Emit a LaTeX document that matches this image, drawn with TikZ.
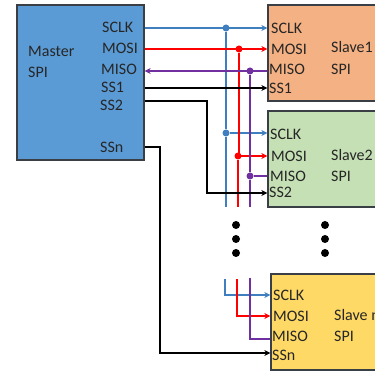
\documentclass[tikz,border=0pt]{standalone}
\usepackage{fontspec}
\setmainfont{Carlito}
\usepackage{xcolor}
\definecolor{ink}{HTML}{3A3F45}
\definecolor{masterblue}{HTML}{5B9BD5}
\definecolor{slaveorange}{HTML}{F4B183}
\definecolor{slavegreen}{HTML}{C5E0B4}
\definecolor{slaveyellow}{HTML}{FFD966}
\definecolor{clkblue}{HTML}{3F7FBF}
\definecolor{misopurple}{HTML}{7030A0}
\usetikzlibrary{arrows.meta}
\tikzset{
  chip/.style={draw=ink, line width=1.3pt, minimum width=#1, minimum height=96pt, inner sep=0pt},
  lab/.style={anchor=west, inner sep=0pt, font=\fontsize{16}{16}\selectfont, text=black!85},
  clk/.style={clkblue, line width=1.8pt},
  mosi/.style={red, line width=1.8pt},
  miso/.style={misopurple, line width=1.8pt},
  sel/.style={black, line width=1.8pt},
  tip/.style={-{Stealth[length=6pt,width=6pt]}},
  junc/.style={circle, fill, inner sep=0pt, minimum size=7pt},
  bigdot/.style={circle, fill=black, inner sep=0pt, minimum size=8pt},
}
\begin{document}
\begin{tikzpicture}[x=1pt,y=-1pt]
  \useasboundingbox (0,0) rectangle (375,371);
  \clip (0,0) rectangle (375,371);
  \fill[white] (0,0) rectangle (375,371);
  % chips
  \node[chip=127pt, minimum height=155pt, fill=masterblue] (master) at (80.5,82.5) {};
  \node[chip=130pt, fill=slaveorange] (slaveA) at (333,53) {};
  \node[chip=130pt, fill=slavegreen] (slaveB) at (333,159) {};
  \node[chip=130pt, fill=slaveyellow] (slaveN) at (336,322) {};
  % master labels
  \node[lab] (mname) at (28,51) {Master};
  \node[lab] (mspi) at (28,72) {SPI};
  \node[lab] (msclk) at (102,27) {SCLK};
  \node[lab] (mmosi) at (102,48) {MOSI};
  \node[lab] (mmiso) at (101,69) {MISO};
  \node[lab] (mssa) at (101,87) {SS1};
  \node[lab] (mssb) at (100,105) {SS2};
  \node[lab] (mssn) at (100,147) {SSn};
  % slave 1 labels
  \node[lab] (asclk) at (271,28) {SCLK};
  \node[lab] (amosi) at (271,49) {MOSI};
  \node[lab] (amiso) at (269,69) {MISO};
  \node[lab] (assa) at (269,88) {SS1};
  \node[lab] (aname) at (331,47) {Slave1};
  \node[lab] (aspi) at (331,69) {SPI};
  % slave 2 labels
  \node[lab] (bsclk) at (270,134) {SCLK};
  \node[lab] (bmosi) at (271,156) {MOSI};
  \node[lab] (bmiso) at (270,176) {MISO};
  \node[lab] (bssb) at (269,192) {SS2};
  \node[lab] (bname) at (331,155) {Slave2};
  \node[lab] (bspi) at (331,176) {SPI};
  % slave n labels
  \node[lab] (nsclk) at (273,295) {SCLK};
  \node[lab] (nmosi) at (273,316) {MOSI};
  \node[lab] (nmiso) at (272,336) {MISO};
  \node[lab] (nssn) at (272,355) {SSn};
  \node[lab] (nname) at (334,315) {Slave n};
  \node[lab] (nspi) at (334,336) {SPI};
  % bus ends and junctions
  \node[junc, clkblue] (jca) at (226,28) {};
  \node[junc, clkblue] (jcb) at (226,133) {};
  \node[junc, red] (jma) at (239,49) {};
  \node[junc, red] (jmb) at (238,156) {};
  \node[junc, misopurple] (jpa) at (250,71) {};
  \node[junc, misopurple] (jpb) at (250,176) {};
  \coordinate (cend) at (226,207);
  \coordinate (mend) at (238,207);
  \coordinate (pend) at (250,207);
  \coordinate (cstart) at (225,279);
  \coordinate (mstart) at (237,279);
  \coordinate (pstart) at (250,278);
  % clock
  \draw[clk, tip] (master.east |- jca) -- (slaveA.west |- jca);
  \draw[clk] (jca) -- (jcb) -- (cend);
  \draw[clk, tip] (jcb) -- (slaveB.west |- jcb);
  \draw[clk, tip] (cstart) |- (slaveN.west |- 0,295);
  % mosi
  \draw[mosi, tip] (master.east |- jma) -- (slaveA.west |- jma);
  \draw[mosi] (jma) -- (jma |- jmb) -- (jmb) -- (mend);
  \draw[mosi, tip] (jmb) -- (slaveB.west |- jmb);
  \draw[mosi, tip] (mstart) |- (slaveN.west |- 0,316);
  % miso
  \draw[miso, tip] (slaveA.west |- jpa) -- (master.east |- jpa);
  \draw[miso] (jpa) -- (jpb) -- (pend);
  \draw[miso] (jpb) -- (slaveB.west |- jpb);
  \draw[miso] (pstart) |- (slaveN.west |- 0,339);
  % selects
  \draw[sel, tip] (master.east |- 0,88) -- (slaveA.west |- 0,88);
  \draw[sel, tip] (master.east |- 0,101) -| (207,193) -- (slaveB.west |- 0,193);
  \draw[sel, tip] (master.east |- 0,147) -| (160,353) -- (slaveN.west |- 0,353);
  % more slaves
  \foreach \y/\n in {225/a,239/b,253/c}{
    \node[bigdot] (dl\n) at (236,\y) {};
    \node[bigdot] (dr\n) at (325,\y) {};
  }
\end{tikzpicture}
\end{document}
